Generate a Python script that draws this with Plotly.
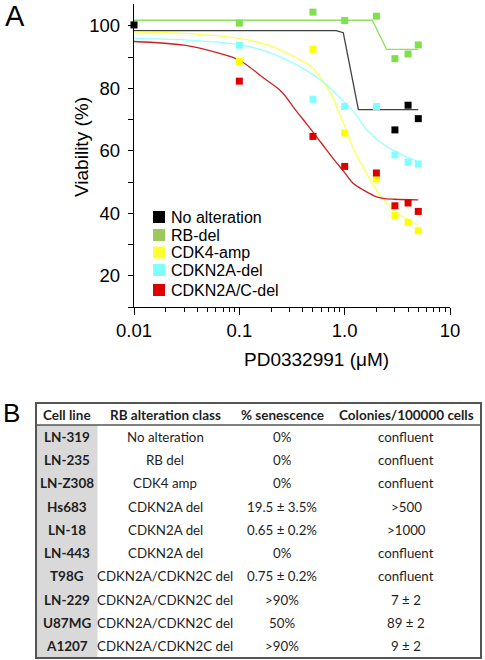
import plotly.graph_objects as go

W, H = 485, 660

# ---------------- Panel A data ----------------
series_names = ["No alteration", "RB-del", "CDK4-amp", "CDKN2A-del", "CDKN2A/C-del"]
marker_colors = ["#000000", "#7ee04a", "#ffff00", "#80ffff", "#dd0000"]
legend_colors = ["#000000", "#9bc95a", "#ffff33", "#80ffff", "#dd0000"]
line_colors = ["#404040", "#8ee060", "#ffff55", "#99ffff", "#cc2020"]

# measured points (dose in uM, viability %)
black_x = [0.01, 3, 4, 5]
black_y = [100.3, 66.7, 74.6, 70.3]
green_x = [0.1, 0.5, 1, 2, 3, 4, 5]
green_y = [100.9, 104.4, 101.7, 103.1, 89.5, 91.0, 93.9]
yellow_x = [0.1, 0.5, 1, 2, 3, 4, 5]
yellow_y = [88.6, 92.5, 65.7, 51.0, 39.3, 37.1, 34.4]
cyan_x = [0.1, 0.5, 1, 2, 3, 4, 5]
cyan_y = [93.8, 76.5, 74.2, 74.2, 58.7, 56.4, 55.8]
red_x = [0.1, 0.5, 1, 2, 3, 4, 5]
red_y = [82.3, 64.6, 55.0, 52.9, 42.4, 43.3, 40.6]

# fitted curves
black_cx = [0.01, 0.83, 0.97, 1.35, 5]
black_cy = [98.5, 98.5, 97.8, 73.2, 73.2]
green_cx = [0.01, 1.83, 2.5, 5]
green_cy = [101.8, 101.8, 92.5, 92.5]
yellow_cx = [0.01, 0.03, 0.1, 0.2, 0.35, 0.5, 0.6, 0.75, 0.9, 1.0, 1.2, 1.6, 2.0, 2.5, 3.0, 4.0, 5.0]
yellow_cy = [98.0, 97.6, 96.0, 93.5, 89.7, 86.5, 83.0, 78.0, 71.5, 68.0, 61.0, 53.0, 47.5, 43.3, 40.3, 38.0, 36.0]
cyan_cx = [0.01, 0.03, 0.1, 0.2, 0.35, 0.6, 0.9, 1.15, 1.7, 2.5, 3.5, 5.0]
cyan_cy = [96.0, 95.5, 94.0, 91.3, 87.5, 82.5, 77.0, 73.5, 66.0, 61.4, 58.8, 56.5]
red_cx = [0.01, 0.03, 0.06, 0.1, 0.17, 0.25, 0.35, 0.45, 0.6, 0.8, 1.0, 1.2, 1.5, 1.9, 2.3, 3.0, 5.0]
red_cy = [95.0, 93.8, 91.5, 89.0, 83.3, 79.0, 72.6, 68.0, 62.5, 57.0, 53.0, 49.6, 47.5, 45.6, 44.8, 44.5, 44.3]

x_tickvals = [0.01, 0.1, 1, 10]
x_ticktext = ["0.01", "0.1", "1.0", "10"]
y_tickvals = [20, 40, 60, 80, 100]
y_minor = [10, 30, 50, 70, 90]

# ---------------- Panel B data ----------------
tbl_header = ["Cell line", "RB alteration class", "% senescence", "Colonies/100000 cells"]
cell_lines = ["LN-319", "LN-235", "LN-Z308", "Hs683", "LN-18", "LN-443", "T98G", "LN-229", "U87MG", "A1207"]
rb_class = ["No alteration", "RB del", "CDK4 amp", "CDKN2A del", "CDKN2A del", "CDKN2A del",
            "CDKN2A/CDKN2C del", "CDKN2A/CDKN2C del", "CDKN2A/CDKN2C del", "CDKN2A/CDKN2C del"]
senescence = ["0%", "0%", "0%", "19.5 ± 3.5%", "0.65 ± 0.2%", "0%", "0.75 ± 0.2%", ">90%", "50%", ">90%"]
colonies = ["confluent", "confluent", "confluent", ">500", ">1000", "confluent", "confluent", "7 ± 2", "89 ± 2", "9 ± 2"]


def px(x):
    return x / W


def py(y):
    return 1 - y / H


fig = go.Figure()

curves = [(black_cx, black_cy, "linear"), (green_cx, green_cy, "linear"),
          (yellow_cx, yellow_cy, "spline"), (cyan_cx, cyan_cy, "spline"), (red_cx, red_cy, "spline")]
for i, (cx, cy, shape) in enumerate(curves):
    fig.add_trace(go.Scatter(x=cx, y=cy, mode="lines", line=dict(color=line_colors[i], width=1.3, shape=shape),
                             showlegend=False, hoverinfo="skip"))

points = [(green_x, green_y), (cyan_x, cyan_y), (yellow_x, yellow_y), (red_x, red_y), (black_x, black_y)]
pcols = [marker_colors[1], marker_colors[3], marker_colors[2], marker_colors[4], marker_colors[0]]
pnames = [series_names[1], series_names[3], series_names[2], series_names[4], series_names[0]]
for (xs, ys), c, nm in zip(points, pcols, pnames):
    fig.add_trace(go.Scatter(x=xs, y=ys, mode="markers", name=nm,
                             marker=dict(symbol="square", size=7, color=c, line=dict(width=0)),
                             cliponaxis=False, showlegend=False))

anns = [
    dict(text="A", x=px(3), y=py(16), xanchor="left", yanchor="middle", font=dict(size=29)),
    dict(text="B", x=px(1), y=py(412.5), xanchor="left", yanchor="middle", font=dict(size=26)),
    dict(text="Viability (%)", x=px(81.5), y=py(147.5), textangle=-90, xanchor="center", yanchor="middle",
         font=dict(size=19)),
    dict(text="PD0332991 (μM)", x=px(316.7), y=py(359.3), xanchor="center", yanchor="middle",
         font=dict(size=19)),
]
leg_y = [217, 235, 252.5, 270, 290]
shapes = []
for name, col, ly in zip(series_names, legend_colors, leg_y):
    shapes.append(dict(type="rect", xref="paper", yref="paper", x0=px(153), x1=px(165),
                       y0=py(ly + 6), y1=py(ly - 6), fillcolor=col, line=dict(width=0)))
    anns.append(dict(text=name, x=px(169), y=py(ly + 0.5), xanchor="left", yanchor="middle",
                     font=dict(size=16)))
for a in anns:
    a.update(xref="paper", yref="paper", showarrow=False)
    a["font"].update(family="Liberation Sans, Arial", color="black")

# ---------------- Panel B table (text annotations + frame shapes) ----------------
tx0, tx1 = 36, 481
ty0, thead, ty1 = 403, 425, 658
col_edges = [36, 97.5, 233, 331, 481]
row_h = (ty1 - thead) / len(cell_lines)
tfont = "Lato"
tcol = "#1e1e1e"

shapes.append(dict(type="rect", xref="paper", yref="paper", layer="below",
                   x0=px(col_edges[0]), x1=px(col_edges[1]), y0=py(ty1), y1=py(thead),
                   fillcolor="#d9d9d9", line=dict(width=0)))
shapes.append(dict(type="rect", xref="paper", yref="paper", x0=px(tx0), x1=px(tx1), y0=py(ty1), y1=py(ty0),
                   line=dict(color="#555555", width=2)))
shapes.append(dict(type="line", xref="paper", yref="paper", x0=px(tx0), x1=px(tx1), y0=py(thead), y1=py(thead),
                   line=dict(color="#555555", width=1.5)))

centers = [(col_edges[i] + col_edges[i + 1]) / 2 for i in range(4)]
hy = (ty0 + thead) / 2 + 0.5
for c, h in zip(centers, tbl_header):
    anns.append(dict(text="<b>%s</b>" % h, x=px(c), y=py(hy), xref="paper", yref="paper", showarrow=False,
                     xanchor="center", yanchor="middle", font=dict(family=tfont, size=13.5, color=tcol)))
columns = [cell_lines, rb_class, senescence, colonies]
for ci, (c, vals) in enumerate(zip(centers, columns)):
    for ri, v in enumerate(vals):
        ry = thead + row_h * (ri + 0.5)
        txt = "<b>%s</b>" % v if ci == 0 else v
        anns.append(dict(text=txt, x=px(c), y=py(ry), xref="paper", yref="paper", showarrow=False,
                         xanchor="center", yanchor="middle",
                         font=dict(family=tfont, size=13.5 if ci == 0 else 13.3, color=tcol)))

fig.update_layout(
    width=W, height=H, margin=dict(l=0, r=0, t=0, b=0, autoexpand=False),
    paper_bgcolor="white", plot_bgcolor="white",
    font=dict(family="Liberation Sans, Arial", color="black"),
    annotations=anns, shapes=shapes,
    xaxis=dict(type="log", range=[-2, 1], domain=[px(134), px(450)], tickvals=x_tickvals, ticktext=x_ticktext,
               showline=True, linecolor="black", linewidth=1.3, ticks="outside", ticklen=7, tickwidth=1.3,
               tickcolor="black", showgrid=False, zeroline=False, tickfont=dict(size=18.5), automargin=False,
               minor=dict(ticks="outside", ticklen=3.5, tickwidth=1, tickcolor="black", dtick="D1", showgrid=False)),
    yaxis=dict(range=[10, 107], domain=[py(307), py(4)], tickvals=y_tickvals,
               showline=True, linecolor="black", linewidth=1.3, ticks="outside", ticklen=5, tickwidth=1.3,
               tickcolor="black", showgrid=False, zeroline=False, tickfont=dict(size=18.5), automargin=False,
               ticklabelstandoff=4,
               minor=dict(ticks="outside", ticklen=5, tickwidth=1.3, tickcolor="black", tickvals=y_minor,
                          showgrid=False)),
)

# remove the browser's default 8px page margin so the 485x660 figure fills the window exactly
fig.write_html("out.html", config={"displayModeBar": False},
               post_script="document.body.style.margin='0px';")
